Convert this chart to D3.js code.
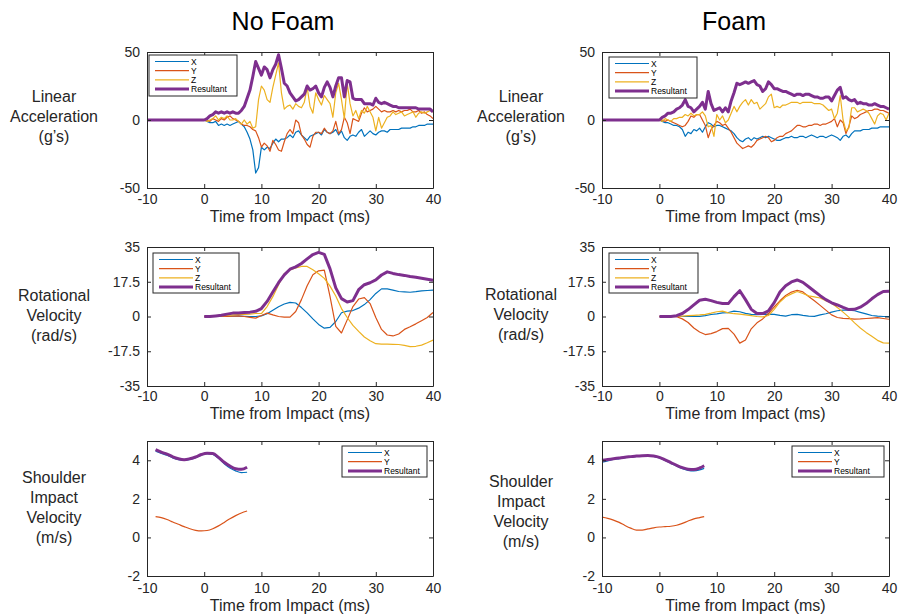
<!DOCTYPE html>
<html>
<head>
<meta charset="utf-8">
<script src="https://cdn.jsdelivr.net/npm/d3@7"></script>
<style>
  body { margin: 0; background: #fff; }
  svg { font-family: "Liberation Sans", Arial, sans-serif; }
</style>
</head>
<body>
<svg id="chart" width="898" height="615"></svg>
<script>
// ---- linear acceleration (g's), sampled every 0.5 ms after impact ----
const accelTime = [-10,
  0,0.5,1,1.5,2,2.5,3,3.5,4,4.5,5,5.5,6,6.5,7,7.5,8,8.5,9,9.5,
  10,10.5,11,11.5,12,12.5,13,13.5,14,14.5,15,15.5,16,16.5,17,17.5,18,18.5,19,19.5,
  20,20.5,21,21.5,22,22.5,23,23.5,24,24.5,25,25.5,26,26.5,27,27.5,28,28.5,29,29.5,
  30,30.5,31,31.5,32,32.5,33,33.5,34,34.5,35,35.5,36,36.5,37,37.5,38,38.5,39,39.5,40];

const nfAccX = [0,
  0,-1,-2,-2,-1,-4,-3,-4,-3,-4, -3,-2,-1,-3,-5,-9,-14,-22,-39,-35,
  -20,-22,-20,-21,-17,-14,-16,-14,-14,-13, -11,-13,-9,-8,-11,-13,-15,-12,-11,-10,
  -9,-11,-7,-9,-10,-9,-7,-11,-8,-13, -15,-12,-11,-12,-9,-7,-12,-10,-8,-10,
  -11,-9,-8,-8,-9,-7,-7,-7,-7,-6, -6,-6,-6,-5,-5,-4,-4,-4,-3,-3, -3];
const nfAccY = [0,
  0,0,-1,1,0,-1,1,0,2,3, 1,0,-1,-3,-4,-4,-5,-7,-8,-13,
  -20,-17,-19,-23,-15,-18,-22,-23,-16,-10, -7,-10,0,-2,-11,-14,-18,-20,-12,-9,
  -9,-10,-6,-9,-10,-8,-1,-10,-7,2, -2,-10,1,0,-1,5,9,6,7,8,
  10,8,6,7,6,6,7,6,7,6, 7,7,8,6,6,7,5,6,4,3, 1];
const nfAccZ = [0,
  0,-1,0,1,3,0,2,1,3,0, 0,1,-1,-3,0,-3,-1,-6,-5,15,
  25,22,15,13,24,33,42,20,8,10, 11,8,12,10,9,13,24,10,5,20,
  15,11,18,15,12,2,20,27,15,1, 27,12,3,7,1,7,5,10,6,2,
  -8,2,-6,-2,2,3,6,4,5,6, 3,4,5,6,2,5,6,5,6,7, 6];
const nfAccR = [0,
  0,1,3,4,6,5,6,5,6,5, 6,5,5,7,10,16,22,32,43,38,
  33,39,37,31,37,41,48,38,27,25, 20,17,14,15,17,19,25,22,23,25,
  20,17,24,28,24,17,25,31,31,17, 29,28,16,15,15,15,12,12,12,11,
  16,13,12,13,12,11,10,10,9,9, 9,9,9,9,9,8,8,8,8,8, 6];

const fAccX = [0,
  0,-1,-2,-2,-3,-4,-4,-5,-7,-12, -9,-10,-7,-8,-6,-9,-5,-2,-3,-5,
  -4,-4,-5,-6,-7,-8,-10,-13,-15,-16, -14,-13,-15,-13,-14,-13,-12,-13,-12,-13,
  -14,-15,-15,-14,-13,-13,-12,-13,-13,-12, -12,-13,-12,-11,-12,-13,-12,-12,-13,-12,
  -11,-12,-13,-15,-12,-11,-13,-10,-8,-8, -8,-7,-7,-7,-6,-6,-6,-5,-5,-5, -5];
const fAccY = [0,
  0,0,-1,0,-1,-2,-3,-4,-5,-4, -1,3,2,4,4,0,-4,-13,-7,-4,
  -1,-2,-4,-3,-6,-9,-13,-17,-19,-21, -20,-19,-20,-18,-15,-14,-13,-12,-13,-16,
  -15,-13,-12,-12,-10,-9,-8,-6,-4,-4, -5,-5,-4,-4,-3,-3,-4,-3,-3,-2,
  -1,1,-5,0,-2,-10,-5,3,1,2, 4,5,6,7,7,8,8,7,7,6, 5];
const fAccZ = [0,
  0,-1,1,0,-1,1,1,2,2,4, 3,5,3,4,4,6,3,-5,-4,-12,
  4,0,3,-2,0,5,10,6,10,13, 15,11,15,12,13,8,10,12,17,19,
  9,10,9,11,11,12,13,13,13,12, 13,13,13,13,12,12,12,11,9,7,
  8,1,5,18,0,-8,-6,9,9,6, 7,8,7,5,1,-3,3,5,4,0, 5];
const fAccR = [0,
  0,2,3,5,5,6,8,9,11,15, 10,9,6,8,10,13,8,21,12,7,
  8,9,6,9,6,14,20,27,26,27, 28,27,28,29,26,25,21,23,28,26,
  23,23,22,21,21,20,19,18,19,19, 18,19,19,18,17,17,16,16,17,17,
  14,18,22,24,16,17,15,14,15,12, 13,12,12,11,11,12,11,10,10,9, 8];

// ---- rotational velocity (rad/s), sampled every 1 ms ----
const rotTime = [0,1,2,3,4,5,6,7,8,9,10,11,12,13,14,15,16,17,18,19,20,
  21,22,23,24,25,26,27,28,29,30,31,32,33,34,35,36,37,38,39,40];

const nfRotX = [0,0,0,0.1,0.2,0.2,0.2,0.1,0,0,0.3,
  1.4,3.2,4.9,6.3,7.1,6.8,4.5,1.8,-1.2,-4,
  -5.9,-5.5,-2.5,1.9,2.7,3,4.2,6,8.5,11.6,
  13.9,13.9,13.3,12.6,12.4,12.2,12.5,12.9,13.1,13.3];
const nfRotY = [0,0,0,0,0,0.2,0.3,0,-0.4,-0.8,0.5,
  1.7,0.8,0,-0.3,-0.3,2.5,8.5,15.5,21,23,
  23.4,10,-5,-8.3,-1.7,5,8.8,9.5,6.5,-0.5,
  -6.5,-9.3,-9.8,-8.8,-6.5,-5.2,-3.7,-2.1,-0.5,2];
const nfRotZ = [0,0,0,0.3,0.5,0.8,1,1,1.2,1.5,1.5,
  5,10,16,21.5,23.5,24.5,25.2,25.2,23.5,21.5,
  19.2,15.3,10.3,4,-0.5,-4.5,-7.5,-10.3,-12.2,-13.7,
  -13.9,-13.9,-14,-14.1,-14.5,-15.2,-15,-14.4,-13.2,-11.9];
const nfRotR = [0,0,0.3,0.6,1.2,1.7,1.8,2,2.2,2.6,4,
  7.6,12.3,17,21,23.8,25,26.7,29,31.2,32.3,
  31.3,24,14.4,9,7.3,8,13.5,16,17,18.4,
  20.9,22.5,21.7,21.1,20.7,20.1,19.8,19.3,18.8,18.3];

const fRotX = [0,0,0,0,0,0.1,0.1,0.1,0.4,1,1.3,
  1.8,2,2.7,2.4,1.6,1.1,0.9,1.1,1.2,1.1,
  0.6,0.2,0.9,1.1,0.6,0.2,0.1,0.8,1.4,2.2,
  2.9,3.2,3.2,2.9,2.1,1.3,0.5,0.2,0,0];
const fRotY = [0,0,0,-0.1,-1.2,-3,-5.8,-7.8,-9.1,-8.6,-7.6,
  -6.1,-6,-8.9,-13.4,-11.8,-6.2,-3.2,-1.2,1.5,4.8,
  7.9,10.6,12.3,13.2,12.4,10.1,7.9,5.6,3.2,0.8,
  -0.5,-0.9,-1.1,-1.3,-1.2,-1,-0.8,-0.6,-1,-1.4];
const fRotZ = [0,0,0,0,0.2,0.4,0.6,0.8,1.1,1.7,2.4,
  2.7,1.8,1.4,1.2,0.8,0.4,0,-0.2,0.5,3.6,
  7.3,9.9,11.4,12.6,11.6,10.4,9.9,9.3,8,6.7,
  4.5,2.2,-0.3,-3.2,-5.8,-8,-10,-12,-13.3,-13.4];
const fRotR = [0,0,0,0.4,1.5,3.5,5.9,8.2,8.7,8,7.1,
  6.5,6.5,10,13,8.5,3.6,1.5,1.5,2.8,7,
  12.3,15.5,17.4,18.4,17.2,15,12.7,10.5,8.5,6.9,
  5.8,4.6,3.5,3.6,4.7,6.5,8.9,11,12.6,12.7];

// ---- shoulder impact velocity (m/s) ----
const nfShTime = [-8.5,-7.5,-6.5,-5.5,-4.5,-3.5,-2.5,-1.5,-0.5,0.5,1.5,2.5,3.5,4.5,5.5,6.5,7.5];
const nfShX = [4.47,4.36,4.26,4.12,4.03,3.99,4.04,4.13,4.27,4.34,4.3,4.1,3.82,3.6,3.45,3.36,3.38];
const nfShY = [1.08,1.03,0.93,0.8,0.68,0.56,0.45,0.37,0.34,0.36,0.45,0.6,0.78,0.97,1.13,1.27,1.37];
const nfShR = [4.55,4.42,4.32,4.18,4.08,4.03,4.08,4.17,4.3,4.37,4.35,4.15,3.9,3.7,3.56,3.53,3.64];

const fShTime = [-10,-9,-8,-7,-6,-5,-4,-3,-2,-1,0,1,2,3,4,5,6,7,7.8];
const fShX = [3.9,3.97,4.04,4.09,4.14,4.17,4.2,4.22,4.23,4.2,4.12,3.99,3.84,3.7,3.57,3.48,3.45,3.5,3.58];
const fShY = [1.05,0.99,0.9,0.78,0.62,0.48,0.38,0.38,0.44,0.5,0.54,0.56,0.58,0.63,0.73,0.85,0.96,1.03,1.08];
const fShR = [4.0,4.04,4.08,4.12,4.16,4.19,4.22,4.24,4.25,4.22,4.15,4.02,3.88,3.74,3.62,3.54,3.52,3.6,3.72];

// ---- axes, ticks, labels ----
const columnTitles = ["No Foam", "Foam"];
const xTicks = [-10, 0, 10, 20, 30, 40];
const accelTicks = [-50, 0, 50];
const rotTicks = [-35, -17.5, 0, 17.5, 35];
const shTicks = [-2, 0, 2, 4];
const accelLabel = ["Linear", "Acceleration", "(g\u2019s)"];
const rotLabel = ["Rotational", "Velocity", "(rad/s)"];
const shLabel = ["Shoulder", "Impact", "Velocity", "(m/s)"];
const xTitle = "Time from Impact (ms)";

const COLOR_X = "#0072BD";
const COLOR_Y = "#D95319";
const COLOR_Z = "#EDB120";
const COLOR_R = "#7E2F8E";
const AXIS = "#262626";

const svg = d3.select("#chart");

const cols = [
  { x0: 147, x1: 433, labelX: 54, titleX: 283 },
  { x0: 602, x1: 889, labelX: 521, titleX: 734 }
];
const rows = [
  { y0: 52, y1: 188, xTitleY: 222, pad: 6 },
  { y0: 247, y1: 386, xTitleY: 419, pad: 5 },
  { y0: 441, y1: 576, xTitleY: 611, pad: 7 }
];

const sx = (name, t, v, c) => ({ name, t, v, color: c, width: 1.2 });
const sr = (t, v) => ({ name: "Resultant", t, v, color: COLOR_R, width: 3 });

const panels = [
  { col: 0, row: 0, domain: [-50, 50], ticks: accelTicks, label: accelLabel, labelY: [102, 122, 142],
    legend: { left: 2, top: 3, w: 88, h: 41 },
    series: [sx("X", accelTime, nfAccX, COLOR_X), sx("Y", accelTime, nfAccY, COLOR_Y),
             sx("Z", accelTime, nfAccZ, COLOR_Z), sr(accelTime, nfAccR)] },
  { col: 1, row: 0, domain: [-50, 50], ticks: accelTicks, label: accelLabel, labelY: [102, 122, 142],
    legend: { left: 7, top: 5, w: 88, h: 41 },
    series: [sx("X", accelTime, fAccX, COLOR_X), sx("Y", accelTime, fAccY, COLOR_Y),
             sx("Z", accelTime, fAccZ, COLOR_Z), sr(accelTime, fAccR)] },
  { col: 0, row: 1, domain: [-35, 35], ticks: rotTicks, label: rotLabel, labelY: [301, 321, 341],
    legend: { left: 6, top: 6, w: 86, h: 40 },
    series: [sx("X", rotTime, nfRotX, COLOR_X), sx("Y", rotTime, nfRotY, COLOR_Y),
             sx("Z", rotTime, nfRotZ, COLOR_Z), sr(rotTime, nfRotR)] },
  { col: 1, row: 1, domain: [-35, 35], ticks: rotTicks, label: rotLabel, labelY: [300, 320, 340],
    legend: { left: 7, top: 6, w: 89, h: 40 },
    series: [sx("X", rotTime, fRotX, COLOR_X), sx("Y", rotTime, fRotY, COLOR_Y),
             sx("Z", rotTime, fRotZ, COLOR_Z), sr(rotTime, fRotR)] },
  { col: 0, row: 2, domain: [-2, 5], ticks: shTicks, label: shLabel, labelY: [483, 503, 523, 543],
    legend: { right: 6, top: 5, w: 85, h: 31 }, smooth: true,
    series: [sx("X", nfShTime, nfShX, COLOR_X), sx("Y", nfShTime, nfShY, COLOR_Y), sr(nfShTime, nfShR)] },
  { col: 1, row: 2, domain: [-2, 5], ticks: shTicks, label: shLabel, labelY: [487, 507, 527, 547],
    legend: { right: 5, top: 5, w: 92, h: 31 }, smooth: true,
    series: [sx("X", fShTime, fShX, COLOR_X), sx("Y", fShTime, fShY, COLOR_Y), sr(fShTime, fShR)] }
];

const fmt = (d) => String(d);

panels.forEach((p) => {
  const c = cols[p.col];
  const r = rows[p.row];
  const x = d3.scaleLinear().domain([-10, 40]).range([c.x0, c.x1]);
  const y = d3.scaleLinear().domain(p.domain).range([r.y1, r.y0]);

  const g = svg.append("g");

  // series
  p.series.forEach((s) => {
    const line = d3
      .line()
      .x((d, i) => x(s.t[i]))
      .y((d) => y(d))
      .curve(p.smooth ? d3.curveMonotoneX : d3.curveLinear);
    g.append("path")
      .datum(s.v)
      .attr("fill", "none")
      .attr("stroke", s.color)
      .attr("stroke-width", s.width)
      .attr("stroke-linejoin", "round")
      .attr("d", line);
  });

  // box + inward ticks on all four sides
  const styleAxis = (sel) => {
    sel.selectAll("path.domain").attr("stroke", AXIS).attr("stroke-width", 1);
    sel.selectAll(".tick line").attr("stroke", AXIS).attr("stroke-width", 1);
    sel.selectAll("text").attr("fill", AXIS).style("font-size", "14px")
      .style("font-family", '"Liberation Sans", Arial, sans-serif');
  };
  g.append("g").attr("transform", `translate(0,${r.y1})`)
    .call(d3.axisBottom(x).tickValues(xTicks).tickFormat(fmt).tickSize(-4).tickSizeOuter(0).tickPadding(r.pad))
    .call(styleAxis);
  g.append("g").attr("transform", `translate(0,${r.y0})`)
    .call(d3.axisTop(x).tickValues(xTicks).tickFormat("").tickSize(-4).tickSizeOuter(0))
    .call(styleAxis);
  g.append("g").attr("transform", `translate(${c.x0},0)`)
    .call(d3.axisLeft(y).tickValues(p.ticks).tickFormat(fmt).tickSize(-4).tickSizeOuter(0).tickPadding(7))
    .call(styleAxis);
  g.append("g").attr("transform", `translate(${c.x1},0)`)
    .call(d3.axisRight(y).tickValues(p.ticks).tickFormat("").tickSize(-4).tickSizeOuter(0))
    .call(styleAxis);

  // x title
  g.append("text")
    .attr("x", (c.x0 + c.x1) / 2)
    .attr("y", r.xTitleY)
    .attr("text-anchor", "middle")
    .attr("fill", AXIS)
    .style("font-size", "16px")
    .text(xTitle);

  // y label (horizontal, multi-line)
  p.label.forEach((t, i) => {
    g.append("text")
      .attr("x", c.labelX)
      .attr("y", p.labelY[i])
      .attr("text-anchor", "middle")
      .attr("fill", AXIS)
      .style("font-size", "16px")
      .text(t);
  });

  // legend
  const L = p.legend;
  const lx = L.left !== undefined ? c.x0 + L.left : c.x1 - L.right - L.w;
  const ly = r.y0 + L.top;
  const lg = g.append("g").attr("transform", `translate(${lx},${ly})`);
  lg.append("rect")
    .attr("width", L.w)
    .attr("height", L.h)
    .attr("fill", "#fff")
    .attr("stroke", AXIS)
    .attr("stroke-width", 1);
  p.series.forEach((s, i) => {
    const yy = 6.5 + i * 9.2;
    lg.append("line")
      .attr("x1", 6).attr("x2", 40)
      .attr("y1", yy).attr("y2", yy)
      .attr("stroke", s.color)
      .attr("stroke-width", s.width);
    lg.append("text")
      .attr("x", 42)
      .attr("y", yy)
      .attr("dy", "0.36em")
      .attr("fill", "#000")
      .style("font-size", "8.5px")
      .text(s.name);
  });
});

// column titles
columnTitles.forEach((t, i) => {
  svg.append("text")
    .attr("x", cols[i].titleX)
    .attr("y", 30)
    .attr("text-anchor", "middle")
    .attr("fill", "#000")
    .style("font-size", "25px")
    .text(t);
});
</script>
</body>
</html>
